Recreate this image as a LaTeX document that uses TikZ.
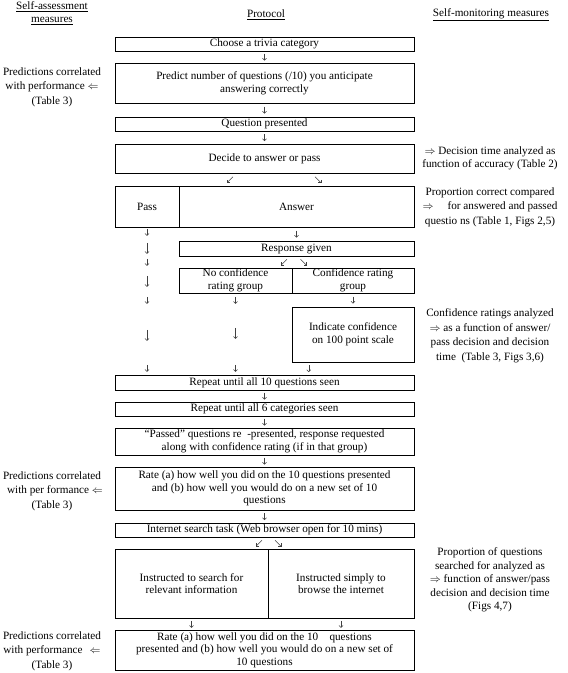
\documentclass[tikz,border=0pt]{standalone}
\usepackage{fontspec}
\setmainfont{Liberation Serif}
\usetikzlibrary{arrows.meta,calc}
\begin{document}
\begin{tikzpicture}[x=1pt,y=-1pt,
  box/.style={draw=black, line width=0.6pt, inner sep=0.5pt, align=center, font=\fontsize{11.2}{12.6}\selectfont},
  note/.style={align=center, inner sep=0pt, font=\fontsize{11.2}{14.5}\selectfont},
  head/.style={align=center, inner sep=0pt, font=\fontsize{11.2}{12.8}\selectfont},
  arr/.style={draw=black!75, line width=0.45pt, -{Straight Barb[length=2pt,width=4pt]}}]
\path[use as bounding box] (0,0) rectangle (568,673);
% headers
\node[head] (h1) at (52,13) {\underline{Self-assessment}\\\underline{measures}};
\node[head] (h2) at (266,15) {\underline{Protocol}};
\node[head] (h3) at (491,15) {\underline{Self-monitoring measures}};
% protocol boxes
\node[box, minimum width=299pt, minimum height=14pt] (b1) at (264.5,44) {Choose a trivia category};
\node[box, minimum width=299pt, minimum height=40pt] (b2) at (264.5,83) {Predict number of questions (/10) you anticipate\\answering correctly};
\node[box, minimum width=299pt, minimum height=14pt] (b3) at (264.5,124) {Question presented};
\node[box, minimum width=299pt, minimum height=29pt] (b4) at (264.5,158.5) {Decide to answer or pass};
\node[box, minimum width=64pt, minimum height=41pt] (pass) at (147,206.5) {Pass};
\node[box, minimum width=235pt, minimum height=41pt] (ans) at (296.5,206.5) {Answer};
\node[box, minimum width=235pt, minimum height=15pt] (resp) at (296.5,248.5) {Response given};
\node[box, minimum width=113pt, minimum height=25pt] (nc) at (235.5,280.5) {No confidence\\rating group};
\node[box, minimum width=122pt, minimum height=25pt] (cf) at (353,280.5) {Confidence rating\\group};
\node[box, minimum width=122pt, minimum height=55pt] (ind) at (353,334.5) {Indicate confidence\\on 100 point scale};
\node[box, minimum width=299pt, minimum height=15pt] (b9) at (264.5,382.5) {Repeat until all 10 questions seen};
\node[box, minimum width=299pt, minimum height=14pt] (b10) at (264.5,409) {Repeat until all 6 categories seen};
\node[box, minimum width=299pt, minimum height=27pt] (b11) at (264.5,441.5) {“Passed” questions re\ \ -presented, response requested\\along with confidence rating (if in that group)};
\node[box, minimum width=299pt, minimum height=43pt] (b12) at (264.5,488.5) {Rate (a) how well you did on the 10 questions presented\\and (b) how well you would do on a new set of 10\\questions};
\node[box, minimum width=299pt, minimum height=14pt] (b13) at (264.5,530) {Internet search task (Web browser open for 10 mins)};
\node[box, minimum width=153pt, minimum height=69pt] (i1) at (191.5,583.5) {Instructed to search for\\relevant information};
\node[box, minimum width=146pt, minimum height=69pt] (i2) at (341,583.5) {Instructed simply to\\browse the internet};
\node[box, minimum width=299pt, minimum height=40pt] (b15) at (264.5,650) {Rate (a) how well you did on the 10\quad questions\\presented and (b) how well you would do on a new set of\\10 questions};
% left notes
\node[note] (l1) at (52,87) {Predictions correlated\\with performance\ $\Leftarrow$\\(Table 3)};
\node[note] (l2) at (52,491) {Predictions correlated\\\hspace*{6pt}with per formance\ $\Leftarrow$\\(Table 3)};
\node[note] (l3) at (52,651) {Predictions correlated\\with performance\hspace{7pt}$\Leftarrow$\\(Table 3)};
% right notes
\node[note, font=\fontsize{11.2}{12.8}\selectfont] (r1) at (490,158.5) {$\Rightarrow$\ Decision time analyzed as\\function of accuracy (Table 2)};
\node[note] (r2) at (490,207) {Proportion correct compared\\$\Rightarrow$\quad\ for answered and passed\\questio ns (Table 1, Figs 2,5)};
\node[note] (r3) at (490,336) {Confidence ratings analyzed\\$\Rightarrow$\ as a function of answer/\\pass decision and decision\\time\ \ (Table 3, Figs 3,6)};
\node[note, font=\fontsize{11.2}{13.5}\selectfont] (r4) at (490,580) {Proportion of questions\\searched for analyzed as\\$\Rightarrow$\ function of answer/pass\\decision and decision time\\(Figs 4,7)};
% centre arrows
\foreach \a/\b in {b1/b2,b2/b3,b3/b4,b9/b10,b10/b11,b11/b12,b12/b13}
  \draw[arr] ($(\a.south)!.5!(\b.north)+(0,-3.5)$) -- +(0,7);
\draw[arr] ($(b4.south)+(-31.5,3.5)$) -- +(-6,6);
\draw[arr] ($(b4.south)+(50.5,3.5)$) -- +(6,6);
% pass column
\draw[arr] ($(pass.south)+(0,1.5)$) -- +(0,7);
\draw[arr] ($(pass.south)+(0,15.5)$) -- +(0,11);
\draw[arr] ($(pass.south)+(0,31.5)$) -- +(0,7);
\draw[arr] ($(pass.south)+(0,48.5)$) -- +(0,11);
\draw[arr] ($(pass.south)+(0,69.5)$) -- +(0,7);
\draw[arr] ($(pass.south)+(0,102.5)$) -- +(0,11);
\draw[arr] ($(pass.south)+(0,137.5)$) -- +(0,7);
% answer column
\draw[arr] ($(ans.south)!.5!(resp.north)+(0,-3.5)$) -- +(0,7);
\draw[arr] ($(resp.south)+(-9.5,3)$) -- +(-6,6);
\draw[arr] ($(resp.south)+(4.1,3)$) -- +(6,6);
% no-confidence column
\draw[arr] ($(nc.south)+(0,3.5)$) -- +(0,7);
\draw[arr] ($(nc.south)+(0,34.5)$) -- +(0,11);
\draw[arr] ($(nc.south)+(0,71.5)$) -- +(0,7);
% confidence column
\draw[arr] ($(cf.south)!.5!(ind.north)+(0,-3.5)$) -- +(0,7);
\draw[arr] ($(ind.south)!.5!(b9.north)+(0,-3.5)$) -- +(0,7);
% internet task
\draw[arr] ($(b13.south)+(-2.5,3)$) -- +(-6,6);
\draw[arr] ($(b13.south)+(10.5,3)$) -- +(6,6);
\draw[arr] ($(i1.south)+(0,2.5)$) -- +(0,7);
\draw[arr] ($(i2.south)+(0,2.5)$) -- +(0,7);
\end{tikzpicture}
\end{document}
